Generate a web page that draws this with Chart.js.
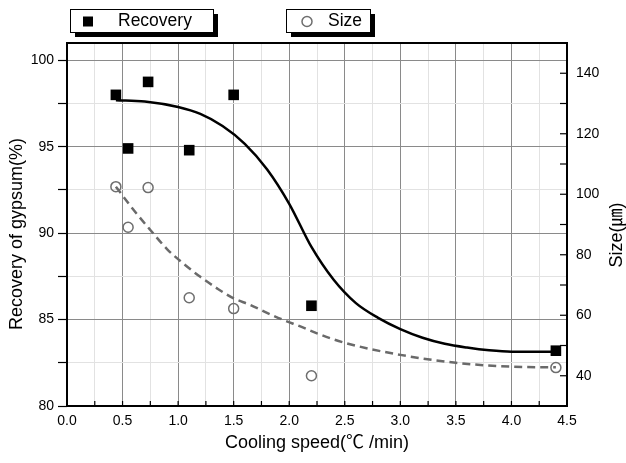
<!DOCTYPE html>
<html>
<head>
<meta charset="utf-8">
<script src="https://cdn.jsdelivr.net/npm/chart.js@4"></script>
<style>
html, body { margin: 0; padding: 0; background: #fff; }
#contenedor { width: 626px; height: 463px; position: relative; }
</style>
</head>
<body>
<div id="contenedor"><canvas id="grafico" width="626" height="463"></canvas></div>
<script>
// datos
const velocidad = [0.44, 0.55, 0.73, 1.1, 1.5, 2.2, 4.4];
const recuperacion = [98.0, 94.9, 98.75, 94.8, 98.0, 85.8, 83.2];
const tamano = [102.5, 89.1, 102.2, 65.8, 62.2, 40.0, 42.7];

// curvas de ajuste
const ajusteRecX = [0.44, 0.7, 1.0, 1.2, 1.4, 1.6, 1.8, 2.0, 2.2, 2.4, 2.6, 2.8, 3.0, 3.2, 3.4, 3.6, 3.8, 4.0, 4.2, 4.4];
const ajusteRecY = [97.69, 97.62, 97.3, 96.9, 96.2, 95.17, 93.7, 91.7, 89.2, 87.3, 85.95, 85.1, 84.45, 83.95, 83.6, 83.38, 83.22, 83.14, 83.14, 83.14];
const ajusteTamX = [0.44, 0.6, 0.75, 0.9, 1.05, 1.2, 1.35, 1.5, 1.65, 1.8, 1.95, 2.1, 2.25, 2.5, 3.0, 3.5, 4.0, 4.4];
const ajusteTamY = [102.5, 94.8, 88.2, 81.9, 77.0, 72.7, 68.9, 65.6, 63.4, 60.8, 58.4, 56.3, 54.0, 50.9, 46.9, 44.3, 43.0, 42.8];

// etiquetas de los ejes
const ticksX = [0, 0.5, 1.0, 1.5, 2.0, 2.5, 3.0, 3.5, 4.0, 4.5];
const ticksIzq = [80, 85, 90, 95, 100];
const ticksDer = [40, 60, 80, 100, 120, 140];

const fuente = "'Liberation Sans', Arial, 'Noto Sans CJK KR', sans-serif";

function puntos(xs, ys) {
    return xs.map((x, i) => ({ x: x, y: ys[i] }));
}

function esta(lista, v) {
    return lista.some(t => Math.abs(t - v) < 1e-6);
}

function textoVertical(ctx, texto, x, y) {
    ctx.save();
    ctx.translate(x, y);
    ctx.rotate(-Math.PI / 2);
    ctx.fillText(texto, 0, 0);
    ctx.restore();
}

// marco, marcas hacia dentro, titulos verticales y leyenda con sombra
const extras = {
    id: 'extras',
    afterDraw(chart) {
        const ctx = chart.ctx;
        const a = chart.chartArea;
        const sx = chart.scales.x;
        const sd = chart.scales.y2;
        ctx.save();
        ctx.strokeStyle = '#000';
        ctx.lineWidth = 1.2;
        sx.ticks.forEach(t => {
            const px = sx.getPixelForValue(t.value);
            ctx.beginPath();
            ctx.moveTo(px, a.bottom);
            ctx.lineTo(px, a.bottom - 5);
            ctx.stroke();
        });
        sd.ticks.forEach(t => {
            const py = sd.getPixelForValue(t.value);
            ctx.beginPath();
            ctx.moveTo(a.right, py);
            ctx.lineTo(a.right - 7, py);
            ctx.stroke();
        });
        ctx.lineWidth = 2;
        ctx.strokeRect(a.left, a.top, a.right - a.left, a.bottom - a.top);

        // titulos de los ejes verticales
        ctx.fillStyle = '#000';
        ctx.font = '18px ' + fuente;
        ctx.textAlign = 'center';
        ctx.textBaseline = 'middle';
        textoVertical(ctx, 'Recovery of gypsum(%)', 17, 234);
        textoVertical(ctx, 'Size(㎛)', 617, 235);
        ctx.restore();

        // leyenda
        const cajas = [
            { x: 70, w: 143, ds: chart.data.datasets[0] },
            { x: 286, w: 84, ds: chart.data.datasets[1] }
        ];
        ctx.save();
        cajas.forEach(c => {
            const y = 9, h = 23;
            ctx.fillStyle = '#000';
            ctx.fillRect(c.x + 5, y + 5, c.w, h);
            ctx.fillStyle = '#fff';
            ctx.fillRect(c.x, y, c.w, h);
            ctx.strokeStyle = '#000';
            ctx.lineWidth = 1;
            ctx.strokeRect(c.x + 0.5, y + 0.5, c.w, h);
            const mx = c.x + (c.ds.pointStyle === 'rect' ? 18 : 21);
            const my = y + h / 2 + 1;
            if (c.ds.pointStyle === 'rect') {
                ctx.fillStyle = c.ds.backgroundColor;
                ctx.fillRect(mx - 5, my - 5, 10, 10);
            } else {
                ctx.strokeStyle = c.ds.borderColor;
                ctx.lineWidth = 1.5;
                ctx.beginPath();
                ctx.arc(mx, my, 5, 0, Math.PI * 2);
                ctx.stroke();
            }
            ctx.fillStyle = '#000';
            ctx.font = '17.5px ' + fuente;
            ctx.textAlign = 'left';
            ctx.textBaseline = 'middle';
            ctx.fillText(c.ds.label, c.x + (c.ds.pointStyle === 'rect' ? 48 : 42), my);
        });
        ctx.restore();
    }
};

const ctx = document.getElementById('grafico').getContext('2d');
const miGrafico = new Chart(ctx, {
    type: 'scatter',
    data: {
        datasets: [
            {
                label: 'Recovery',
                data: puntos(velocidad, recuperacion),
                yAxisID: 'y',
                pointStyle: 'rect',
                pointRadius: 7.5,
                backgroundColor: '#000',
                borderColor: '#000',
                borderWidth: 0
            },
            {
                label: 'Size',
                data: puntos(velocidad, tamano),
                yAxisID: 'y2',
                pointStyle: 'circle',
                pointRadius: 5,
                backgroundColor: 'rgba(0,0,0,0)',
                borderColor: '#6e6e6e',
                borderWidth: 1.5
            },
            {
                label: 'ajusteRec',
                data: puntos(ajusteRecX, ajusteRecY),
                yAxisID: 'y',
                showLine: true,
                cubicInterpolationMode: 'monotone',
                pointRadius: 0,
                borderColor: '#000',
                borderWidth: 2.5
            },
            {
                label: 'ajusteTam',
                data: puntos(ajusteTamX, ajusteTamY),
                yAxisID: 'y2',
                showLine: true,
                cubicInterpolationMode: 'monotone',
                pointRadius: 0,
                borderColor: '#6a6a6a',
                borderWidth: 2.5,
                borderDash: [8, 5]
            }
        ]
    },
    options: {
        responsive: false,
        animation: false,
        devicePixelRatio: 1,
        layout: { padding: { top: 43, left: 0, right: 0, bottom: 0 } },
        plugins: {
            legend: { display: false },
            tooltip: { enabled: false }
        },
        scales: {
            x: {
                type: 'linear',
                min: 0,
                max: 4.5,
                afterFit: s => { s.height = 57; },
                afterBuildTicks: s => {
                    const t = [];
                    for (let i = 0; i <= 18; i++) t.push({ value: i * 0.25 });
                    s.ticks = t;
                },
                ticks: {
                    autoSkip: false,
                    maxRotation: 0,
                    padding: 7,
                    color: '#000',
                    font: { family: fuente, size: 14 },
                    callback: v => esta(ticksX, v) ? v.toFixed(1) : ''
                },
                grid: {
                    drawTicks: false,
                    color: c => esta(ticksX, c.tick.value) ? '#8a8a8a' : '#e2e2e2',
                    lineWidth: 1
                },
                border: { display: false },
                title: {
                    display: true,
                    text: 'Cooling speed(℃ /min)',
                    color: '#000',
                    font: { family: fuente, size: 18 },
                    padding: { top: 0, bottom: 9 }
                }
            },
            y: {
                type: 'linear',
                position: 'left',
                min: 80,
                max: 101,
                afterFit: s => { s.width = 67; },
                afterBuildTicks: s => {
                    const t = [];
                    for (let i = 0; i <= 8; i++) t.push({ value: 80 + i * 2.5 });
                    s.ticks = t;
                },
                ticks: {
                    autoSkip: false,
                    padding: 4,
                    color: '#000',
                    font: { family: fuente, size: 14 },
                    callback: v => esta(ticksIzq, v) ? String(v) : ''
                },
                grid: {
                    tickLength: 9,
                    tickColor: '#000',
                    tickWidth: 1.2,
                    color: c => esta(ticksIzq, c.tick.value) ? '#8a8a8a' : '#e2e2e2',
                    lineWidth: 1
                },
                border: { display: false }
            },
            y2: {
                type: 'linear',
                position: 'right',
                min: 30,
                max: 150,
                afterFit: s => { s.width = 59; },
                afterBuildTicks: s => {
                    const t = [];
                    for (let v = 30; v <= 150; v += 10) t.push({ value: v });
                    s.ticks = t;
                },
                ticks: {
                    autoSkip: false,
                    padding: 9,
                    color: '#000',
                    font: { family: fuente, size: 14 },
                    callback: v => esta(ticksDer, v) ? String(v) : ''
                },
                grid: { drawOnChartArea: false, drawTicks: false },
                border: { display: false }
            }
        }
    },
    plugins: [extras]
});
</script>
</body>
</html>
